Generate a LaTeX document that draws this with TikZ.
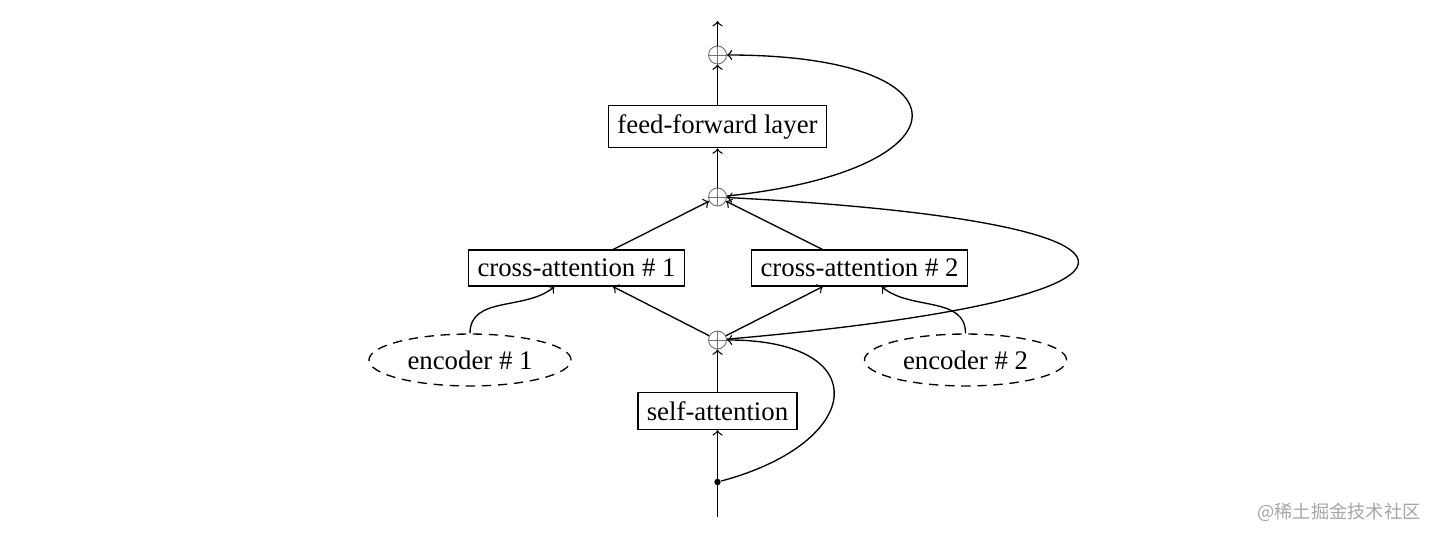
\documentclass[tikz,border=0pt]{standalone}
\usepackage{fontspec}
\setmainfont{Liberation Serif}
\newfontfamily\cjkfont{Noto Sans CJK SC}
\usetikzlibrary{shapes.geometric}
\begin{document}
\begin{tikzpicture}[x=0.37313pt,y=-0.37313pt, line width=0.5pt,
  box/.style={draw, rectangle, inner sep=0.3333em, font=\fontsize{10}{12}\selectfont},
  enc/.style={draw, ellipse, dash pattern=on 3.5pt off 2.5pt, inner sep=0.3333em, font=\fontsize{10}{12}\selectfont},
  sum/.style={circle, draw=black!55, line width=0.35pt, minimum size=6.7pt, inner sep=0pt,
    path picture={\draw[black!55,line width=0.35pt]
      (path picture bounding box.north) -- (path picture bounding box.south)
      (path picture bounding box.west) -- (path picture bounding box.east);}},
  dotnode/.style={circle, fill, inner sep=0pt, minimum size=2.4pt},
  arr/.style={->},
  wmark/.style={text=black!35, font=\cjkfont\fontsize{6.8}{8}\selectfont}
  ]
\useasboundingbox (0,0) rectangle (1437,539);
\node[sum] (s3) at (717.5,55) {};
\node[box] (ff) at (717.5,126.5) {feed-forward layer};
\node[sum] (s2) at (717.5,197) {};
\node[box] (c1) at (576.5,268) {cross-attention \# 1};
\node[box] (c2) at (859.5,268) {cross-attention \# 2};
\node[sum] (s1) at (717.5,340) {};
\node[enc] (e1) at (470,360) {encoder \# 1};
\node[enc] (e2) at (965.5,360) {encoder \# 2};
\node[box] (sa) at (717.5,411) {self-attention};
\node[dotnode] (d) at (717.5,482) {};
\coordinate (in) at (717.5,517);
\coordinate (out) at (717.5,21);
\node[wmark] (wm) at (1339,512) {@稀土掘金技术社区};

\draw[arr] (in) -- (sa);
\draw[arr] (d) to[out=15,in=0,looseness=2.7] (s1);
\draw[arr] (sa) -- (s1);
\draw[arr] (s1) -- (c1);
\draw[arr] (s1) -- (c2);
\draw[arr] (e1.north) to[out=90,in=-140] (c1);
\draw[arr] (e2.north) to[out=90,in=-40] (c2);
\draw[arr] (c1) -- (s2);
\draw[arr] (c2) -- (s2);
\draw[arr] (s1) to[out=5,in=-3,looseness=8.5] (s2);
\draw[arr] (s2) -- (ff);
\draw[arr] (ff) -- (s3);
\draw[arr] (s2) to[out=6,in=0,looseness=4.5] (s3);
\draw[arr] (s3) -- (out);
\end{tikzpicture}
\end{document}
